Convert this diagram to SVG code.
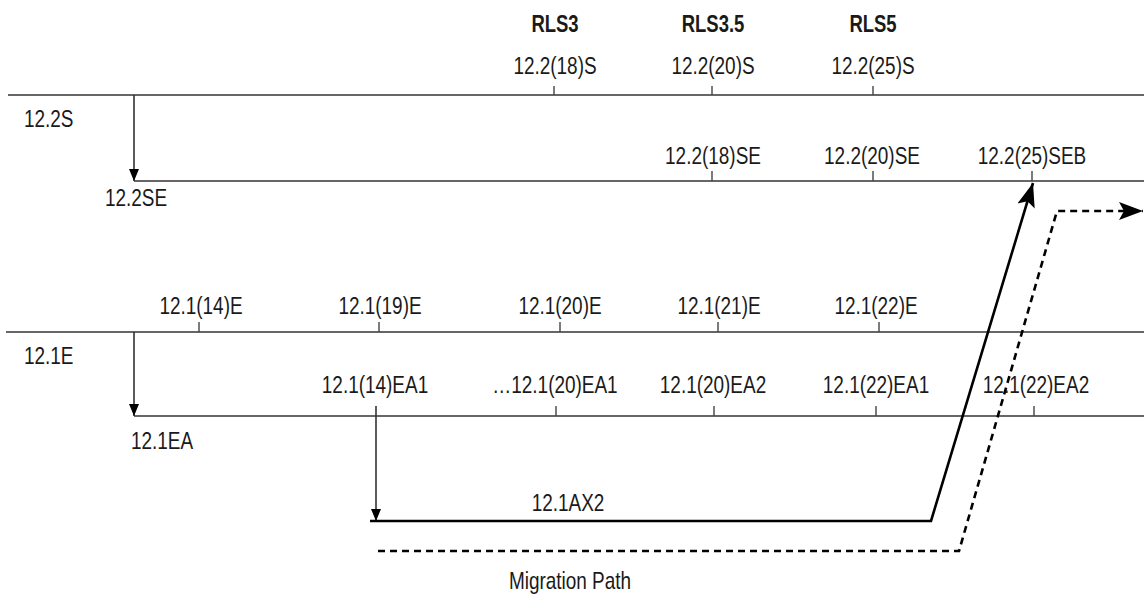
<svg xmlns="http://www.w3.org/2000/svg" width="1144" height="596" viewBox="0 0 1144 596">
<style>
text{font-family:"Liberation Sans",Arial,sans-serif;font-size:24px;fill:#1a1a1a}
.b{font-weight:bold}
.m{text-anchor:middle}
.thin{stroke:#333;stroke-width:1.6;fill:none}
.tick{stroke:#444;stroke-width:1.4;fill:none}
.thick{stroke:#000;stroke-width:2.6;fill:none}
.dash{stroke:#000;stroke-width:2.6;fill:none;stroke-dasharray:7 5}
</style>
<defs>
<marker id="sa" markerUnits="userSpaceOnUse" markerWidth="12" markerHeight="14" refX="12" refY="5" orient="auto" viewBox="0 0 12 10">
<path d="M0,0 L12,5 L0,10 Z" fill="#000"/>
</marker>
<marker id="ba" markerUnits="userSpaceOnUse" markerWidth="26" markerHeight="20" refX="24" refY="9" orient="auto" viewBox="0 0 26 18">
<path d="M0,0 L24,9 L0,18 L5,9 Z" fill="#000"/>
</marker>
</defs>

<g id="connectors">
<path class="thin" d="M8 95 H1144"/>
<path class="thin" d="M134 181 H1144" stroke="#555"/>
<path class="thin" d="M6 332 H1144"/>
<path class="thin" d="M134 416 H1144"/>
<path class="thin" d="M134 95 V181" marker-end="url(#sa)"/>
<path class="thin" d="M134 332 V416" marker-end="url(#sa)"/>
<path class="thin" d="M376 406 V521" marker-end="url(#sa)"/>
<path class="thick" d="M370 521 H931 L1033 183" marker-end="url(#ba)"/>
<path class="dash" d="M378 551 H959 L1057 211 H1143" marker-end="url(#ba)"/>
</g>

<g id="ticks">
<path class="tick" d="M554 86 V95 M712 86 V95 M873 86 V95"/>
<path class="tick" d="M712 171 V181 M873 171 V181 M1032 171 V181"/>
<path class="tick" d="M199 322 V332 M379 322 V332 M560 322 V332 M718 322 V332 M879 322 V332"/>
<path class="tick" d="M556 406 V416 M714 406 V416 M876 406 V416 M1034 406 V416"/>
</g>

<g id="rls-labels">
<text class="b m" transform="translate(555 32) scale(.77 1)">RLS3</text>
<text class="b m" transform="translate(713 32) scale(.77 1)">RLS3.5</text>
<text class="b m" transform="translate(873 32) scale(.77 1)">RLS5</text>
</g>

<g id="line-12.2S">
<text transform="translate(24 127) scale(.79 1)">12.2S</text>
<text class="m" transform="translate(555 74) scale(.79 1)">12.2(18)S</text>
<text class="m" transform="translate(713 74) scale(.79 1)">12.2(20)S</text>
<text class="m" transform="translate(873 74) scale(.79 1)">12.2(25)S</text>
</g>

<g id="line-12.2SE">
<text transform="translate(105 206) scale(.79 1)">12.2SE</text>
<text class="m" transform="translate(713 164) scale(.79 1)">12.2(18)SE</text>
<text class="m" transform="translate(872 164) scale(.79 1)">12.2(20)SE</text>
<text class="m" transform="translate(1032 164) scale(.79 1)">12.2(25)SEB</text>
</g>

<g id="line-12.1E">
<text transform="translate(24 364) scale(.79 1)">12.1E</text>
<text class="m" transform="translate(201 314) scale(.79 1)">12.1(14)E</text>
<text class="m" transform="translate(380 314) scale(.79 1)">12.1(19)E</text>
<text class="m" transform="translate(560 314) scale(.79 1)">12.1(20)E</text>
<text class="m" transform="translate(719 314) scale(.79 1)">12.1(21)E</text>
<text class="m" transform="translate(876 314) scale(.79 1)">12.1(22)E</text>
</g>

<g id="line-12.1EA">
<text transform="translate(131 449) scale(.79 1)">12.1EA</text>
<text class="m" transform="translate(375 393) scale(.79 1)">12.1(14)EA1</text>
<text class="m" transform="translate(555 393) scale(.79 1)">…12.1(20)EA1</text>
<text class="m" transform="translate(713 393) scale(.79 1)">12.1(20)EA2</text>
<text class="m" transform="translate(876 393) scale(.79 1)">12.1(22)EA1</text>
<text class="m" transform="translate(1036 393) scale(.79 1)">12.1(22)EA2</text>
</g>

<g id="line-12.1AX2">
<text class="m" transform="translate(568 511) scale(.79 1)">12.1AX2</text>
</g>

<g id="migration-path">
<text class="m" transform="translate(570 589) scale(.79 1)">Migration Path</text>
</g>
</svg>
